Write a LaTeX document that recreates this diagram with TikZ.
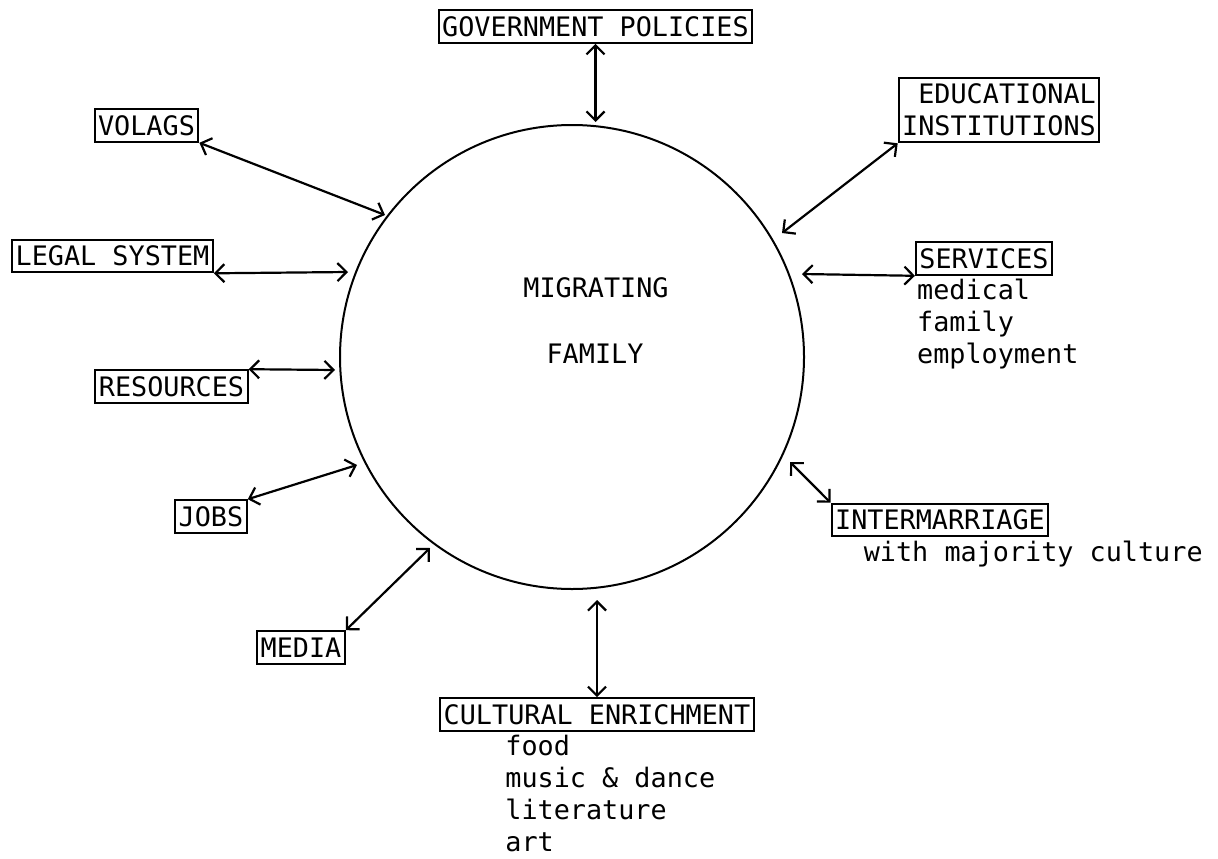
\documentclass[tikz,border=0pt]{standalone}
\usepackage{fontspec}
\newfontfamily\typefont{DejaVu Sans Mono}
\usetikzlibrary{arrows.meta}
\tikzset{
  %% Styles %%
  typed/.style = {font=\typefont\fontsize{26.8}{32}\selectfont},
  hub/.style = {circle, draw, line width=2pt, minimum size=464pt, inner sep=0pt},
  hubtext/.style = {typed, text height=19.6pt, text depth=0pt, inner sep=0pt},
  labelbox/.style = {typed, draw, line width=2pt, text height=19.6pt, text depth=0pt,
    inner xsep=3.5pt, inner ysep=6.5pt},
  sublist/.style = {typed, align=left, inner sep=0pt, anchor=north west},
  link/.style = {line width=2.2pt,
    {Straight Barb[length=9pt,width=18pt]}-{Straight Barb[length=9pt,width=18pt]}},
}
\begin{document}
\begin{tikzpicture}[x=1pt, y=-1pt]
  \useasboundingbox (0,0) rectangle (1218,859);

  % the family in the middle
  \node[hub] (fam) at (572,357) {};
  \node[hubtext] (migr) at (596,288) {MIGRATING};
  \node[hubtext] (famtxt) at (595,354) {FAMILY};

  % surrounding institutions
  \node[labelbox] (gov) at (595.5,26.5) {GOVERNMENT POLICIES};
  \node[labelbox, align=right, text height=51.6pt] (edu) at (999,110) {EDUCATIONAL\\INSTITUTIONS};
  \node[labelbox] (serv) at (984,258.5) {SERVICES};
  \node[labelbox] (inter) at (940,520) {INTERMARRIAGE};
  \node[labelbox] (cult) at (597,714.5) {CULTURAL ENRICHMENT};
  \node[labelbox] (media) at (301,647.5) {MEDIA};
  \node[labelbox] (jobs) at (211,516.5) {JOBS};
  \node[labelbox] (res) at (171.5,386.5) {RESOURCES};
  \node[labelbox] (legal) at (112.5,256) {LEGAL SYSTEM};
  \node[labelbox] (vol) at (146.5,125.5) {VOLAGS};

  % lists under the boxes
  \node[sublist] (servlist) at ([xshift=2pt, yshift=-3pt]serv.south west) {medical\\family\\employment};
  \node[sublist] (interlist) at ([xshift=33pt, yshift=-3pt]inter.south west) {with majority culture};
  \node[sublist] (cultlist) at ([xshift=66pt, yshift=-3pt]cult.south west) {food\\music \& dance\\literature\\art};

  % ends of the arrows at the circle
  \coordinate (eGov) at (595.5,122);
  \coordinate (eEdu) at (782,233);
  \coordinate (eServ) at (802,274);
  \coordinate (eInter) at (790,462);
  \coordinate (eCult) at (597,600);
  \coordinate (eMedia) at (430,548);
  \coordinate (eJobs) at (357,465);
  \coordinate (eRes) at (335,370);
  \coordinate (eLegal) at (348,272);
  \coordinate (eVol) at (385,215);

  % arrows
  \draw[link] (gov.south) -- (eGov);
  \draw[link] (edu.south west) -- (eEdu);
  \draw[link] (eServ) -- (serv.south west);
  \draw[link] (eInter) -- (inter.north west);
  \draw[link] (eCult) -- (cult.north);
  \draw[link] (media.north east) -- (eMedia);
  \draw[link] (jobs.north east) -- (eJobs);
  \draw[link] (res.north east) -- (eRes);
  \draw[link] (legal.south east) -- (eLegal);
  \draw[link] (vol.south east) -- (eVol);
\end{tikzpicture}
\end{document}
